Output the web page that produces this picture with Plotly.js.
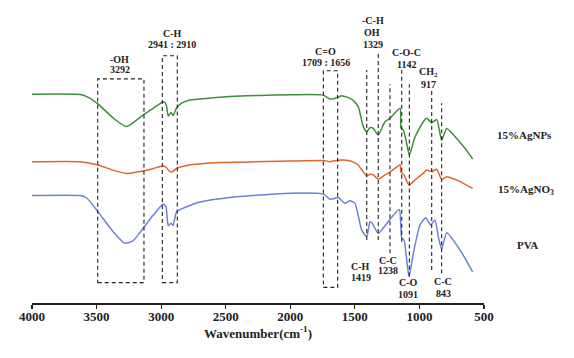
<!DOCTYPE html>
<html>
<head>
<meta charset="utf-8">
<script src="https://cdn.plot.ly/plotly-3.0.1.min.js"></script>
<style>html,body{margin:0;padding:0;background:#fff;}#chart{width:574px;height:358px;}</style>
</head>
<body>
<div id="chart"></div>
<script>
// Wavenumber (cm-1) and relative transmittance (offset, arbitrary units)
const agnpsWave = [4000,3628,3576,3487,3370,3267,3138,3061,2983,2962,2945,2924,2908,2880,2839,2777,2699,2467,2234,2002,1744,1693,1656,1602,1569,1538,1507,1473,1435,1408,1383,1357,1319,1267,1228,1150,1143,1125,1104,1078,1034,970,944,905,866,828,789,701,608,588];
const agnpsT    = [69.6,69.5,68.8,66.3,61.6,58.8,62.7,64.9,67.1,66.3,62.3,63.5,62.5,65.0,66.7,67.7,68.0,68.8,69.2,69.4,69.3,68.0,68.2,69.1,68.7,68.2,67.3,65.4,58.8,57.1,58.4,58.2,56.0,60.4,61.6,64.9,58.3,57.7,54.3,49.3,55.4,60.4,61.6,60.1,61.2,54.3,58.2,54.3,49.3,48.0];

const agno3Wave = [4000,3628,3489,3373,3267,3141,3063,2983,2962,2939,2916,2880,2777,2544,2002,1744,1693,1656,1602,1538,1474,1435,1408,1383,1357,1319,1267,1228,1150,1143,1119,1081,1034,972,944,905,866,828,789,701,588];
const agno3T    = [47.1,47.1,46.0,44.3,43.2,44.0,44.8,45.7,45.3,44.0,43.7,44.9,46.0,46.8,47.3,47.5,47.1,47.4,47.7,47.4,46.0,43.7,42.3,42.9,42.7,41.3,42.7,43.6,46.0,43.7,42.7,39.3,41.0,43.2,44.3,43.8,44.6,41.2,42.1,40.8,38.2];

const pvaWave = [4000,3628,3576,3487,3370,3280,3218,3138,3061,2983,2962,2945,2924,2908,2880,2802,2699,2467,2002,1744,1693,1654,1628,1576,1538,1499,1447,1408,1383,1365,1319,1228,1156,1137,1119,1081,1047,996,951,913,880,854,828,789,686,588];
const pvaT    = [35.8,35.8,35.0,30.3,23.7,19.9,20.7,25.0,29.3,33.0,32.0,25.8,26.6,25.8,30.4,32.1,33.7,35.2,36.6,36.3,34.6,34.9,35.2,33.2,34.1,33.2,24.3,22.1,27.1,26.6,23.2,27.9,31.2,21.6,21.0,8.8,16.6,26.0,28.4,26.0,27.7,22.1,17.9,23.4,17.7,10.4];

const seriesNames = ['15%AgNPs','15%AgNO<sub>3</sub>','PVA'];
const tickVals = [4000,3500,3000,2500,2000,1500,1000,500];

// Dashed band boxes [x0, x1, y0, y1]
const boxes = [[3491,3133,6.8,74.7],[2991,2875,6.8,82.4],[1744,1633,5.2,77.4]];
// Dashed peak markers [x, yBottom, yTop]
const peakLines = [[1408,21.0,77.7],[1319,21.0,83.2],[1228,16.6,72.9],[1137,20.4,77.7],[1078,8.8,72.9],[905,11.0,71.6],[828,9.9,66.6]];

// Peak labels [text, x, y]
const labels = [
  ['-OH',3319,81.2],['3292',3319,77.7],
  ['C-H',2914,89.8],['2941 : 2910',2918,86.2],
  ['C=O',1726,84.0],['1709 : 1656',1724,80.2],
  ['-C-H',1357,94.1],['OH',1367,90.1],['1329',1357,86.2],
  ['C-O-C',1099,83.4],['1142',1099,79.6],
  ['CH<sub>2</sub>',926,76.8],['917',926,73.0],
  ['C-H',1455,12.3],['1419',1455,8.6],
  ['C-C',1241,14.3],['1238',1241,11.0],
  ['C-O',1086,6.8],['1091',1086,3.0],
  ['C-C',815,7.1],['843',815,3.2]
];
// series label positions (paper x, data y)
const seriesLabelPos = [[1.089,56.0],[1.094,37.7],[1.096,19.3]];

const colors = ['#3f8c3a','#e0652a','#6b80d8'];
const font = 'Liberation Serif, Times New Roman, serif';

const traces = [
  {x: agnpsWave, y: agnpsT, name: seriesNames[0]},
  {x: agno3Wave, y: agno3T, name: seriesNames[1]},
  {x: pvaWave, y: pvaT, name: seriesNames[2]}
].map((t,i)=>Object.assign(t,{type:'scatter',mode:'lines',line:{color:colors[i],width:1.5,shape:'spline',smoothing:0.5},hoverinfo:'skip'}));

const shapes = [];
boxes.forEach(b=>shapes.push({type:'rect',xref:'x',yref:'y',x0:b[0],x1:b[1],y0:b[2],y1:b[3],line:{color:'#222',width:1.1,dash:'4px,3px'}}));
peakLines.forEach(p=>shapes.push({type:'line',xref:'x',yref:'y',x0:p[0],x1:p[0],y0:p[1],y1:p[2],line:{color:'#222',width:1.1,dash:'4px,3px'}}));

const annotations = labels.map(l=>({text:'<b>'+l[0]+'</b>',x:l[1],y:l[2],xref:'x',yref:'y',showarrow:false,xanchor:'center',yanchor:'middle',font:{family:font,size:10,color:'#222'}}));
seriesNames.forEach((n,i)=>annotations.push({text:'<b>'+n+'</b>',x:seriesLabelPos[i][0],y:seriesLabelPos[i][1],xref:'paper',yref:'y',showarrow:false,xanchor:'center',yanchor:'middle',font:{family:font,size:11,color:'#222'}}));

const layout = {
  width:574,height:358,
  margin:{l:32,r:90,t:3,b:55},
  paper_bgcolor:'#fff',plot_bgcolor:'#fff',
  showlegend:false,
  xaxis:{range:[4000,500],tickvals:tickVals,ticktext:tickVals.map(v=>'<b>'+v+'</b>'),ticks:'outside',ticklen:4,tickwidth:1.2,tickcolor:'#222',
    ticklabelstandoff:-3,
    showline:true,linecolor:'#222',linewidth:1.5,showgrid:false,zeroline:false,
    tickfont:{family:font,size:13,color:'#222'},
    title:{text:'<b>Wavenumber(cm<sup>-1</sup>)</b>',font:{family:font,size:13,color:'#222'},standoff:0}},
  yaxis:{range:[0,100],visible:false,showgrid:false,zeroline:false},
  shapes:shapes,annotations:annotations
};
Plotly.newPlot('chart',traces,layout,{displayModeBar:false,staticPlot:true});
</script>
</body>
</html>
